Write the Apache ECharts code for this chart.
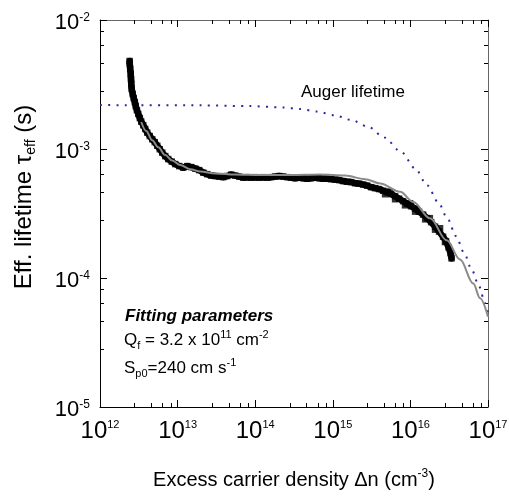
<!DOCTYPE html>
<html>
<head>
<meta charset="utf-8">
<script src="https://cdn.jsdelivr.net/npm/echarts@6/dist/echarts.min.js"></script>
<style>html,body{margin:0;padding:0;background:#fff}#c{width:509px;height:496px}</style>
</head>
<body>
<div id="c"></div>
<script>
const FONT = '"Liberation Sans", Arial, Helvetica, sans-serif';

// Axis ranges / tick labels (exponents of 10)
const xTickExponents = [12, 13, 14, 15, 16, 17];
const yTickExponents = [-5, -4, -3, -2];

// Measured effective lifetime (black squares), main trace in order of Δn
const measuredDn = [
  2.41e12, 2.42e12, 2.45e12, 2.49e12, 2.51e12, 2.53e12, 2.56e12, 2.64e12, 2.72e12, 2.81e12,
  2.89e12, 2.99e12, 3.11e12, 3.26e12, 3.40e12, 3.61e12, 3.83e12, 4.06e12, 4.38e12, 4.71e12,
  5.08e12, 5.47e12, 5.89e12, 6.34e12, 6.93e12, 7.57e12, 8.41e12, 9.33e12,
  1.05e13, 1.18e13, 1.33e13, 1.50e13, 1.69e13, 1.90e13, 2.14e13, 2.41e13, 2.71e13, 3.05e13,
  3.44e13, 3.87e13, 4.36e13, 4.91e13, 5.53e13, 6.22e13, 7.00e13, 7.88e13, 8.87e13, 1.00e14,
  1.12e14, 1.27e14, 1.43e14, 1.61e14, 1.81e14, 2.04e14, 2.29e14, 2.58e14, 2.90e14, 3.27e14,
  3.68e14, 4.15e14, 4.67e14, 5.26e14, 5.92e14, 6.67e14, 7.50e14, 8.45e14, 9.51e14,
  1.07e15, 1.21e15, 1.36e15, 1.53e15, 1.72e15, 1.94e15, 2.18e15, 2.46e15, 2.77e15, 3.12e15,
  3.51e15, 3.95e15, 4.45e15, 5.01e15, 5.64e15, 6.35e15, 7.15e15, 8.05e15, 9.06e15, 1.02e16,
  1.15e16, 1.29e16, 1.46e16, 1.64e16, 1.85e16, 2.08e16, 2.34e16, 2.64e16, 2.88e16, 3.10e16,
  3.29e16, 3.39e16
];
const measuredTau = [
  4.81e-3, 4.56e-3, 4.17e-3, 3.81e-3, 3.48e-3, 3.19e-3, 2.92e-3, 2.67e-3, 2.48e-3, 2.31e-3,
  2.15e-3, 2.00e-3, 1.87e-3, 1.74e-3, 1.63e-3, 1.53e-3, 1.43e-3, 1.34e-3, 1.26e-3, 1.19e-3,
  1.13e-3, 1.06e-3, 9.97e-4, 9.37e-4, 8.81e-4, 8.35e-4, 7.98e-4, 7.64e-4,
  7.37e-4, 7.17e-4, 7.37e-4, 7.24e-4, 7.05e-4, 6.86e-4, 6.56e-4, 6.38e-4, 6.22e-4, 6.17e-4,
  6.11e-4, 6.05e-4, 6.17e-4, 6.33e-4, 6.22e-4, 6.11e-4, 6.00e-4, 6.05e-4, 6.00e-4, 6.05e-4,
  6.00e-4, 6.05e-4, 6.00e-4, 6.05e-4, 6.11e-4, 6.17e-4, 6.11e-4, 6.05e-4, 6.00e-4, 5.94e-4,
  6.00e-4, 5.94e-4, 5.89e-4, 5.94e-4, 6.00e-4, 5.94e-4, 5.89e-4, 5.89e-4, 5.84e-4,
  5.79e-4, 5.74e-4, 5.64e-4, 5.58e-4, 5.54e-4, 5.43e-4, 5.39e-4, 5.30e-4, 5.20e-4, 5.06e-4,
  4.97e-4, 4.89e-4, 4.75e-4, 4.63e-4, 4.47e-4, 4.31e-4, 4.12e-4, 3.94e-4, 3.77e-4, 3.60e-4,
  3.45e-4, 3.27e-4, 3.10e-4, 2.91e-4, 2.71e-4, 2.50e-4, 2.29e-4, 2.09e-4, 1.93e-4, 1.73e-4,
  1.56e-4, 1.42e-4
];
// Extra measured points at the scattered edges of the high-injection band
const measuredEdgeDn = [
  4.72e15, 6.35e15, 8.53e15, 1.15e16, 1.55e16, 2.08e16, 2.79e16,
  5.47e15, 9.91e15, 1.78e16, 2.41e16
];
const measuredEdgeTau = [
  4.46e-4, 4.08e-4, 3.66e-4, 3.27e-4, 2.85e-4, 2.37e-4, 1.90e-4,
  4.68e-4, 3.80e-4, 2.91e-4, 2.43e-4
];

// Fit (grey line)
const fitDn = [
  3.40e12, 3.94e12, 4.71e12, 5.63e12, 6.93e12, 8.53e12, 1.08e13, 1.46e13, 1.96e13, 3.06e13,
  5.52e13, 1.16e14, 2.82e14, 6.87e14, 1.44e15, 2.61e15, 4.07e15, 7.37e15, 1.09e16, 1.79e16,
  2.94e16, 4.36e16, 6.47e16, 7.89e16, 1.00e17
];
const fitTau = [
  1.62e-3, 1.38e-3, 1.17e-3, 1.03e-3, 8.97e-4, 8.13e-4, 7.50e-4, 6.98e-4, 6.68e-4, 6.45e-4,
  6.33e-4, 6.28e-4, 6.28e-4, 6.33e-4, 6.22e-4, 5.84e-4, 5.41e-4, 4.66e-4, 3.89e-4, 2.90e-4,
  1.96e-4, 1.39e-4, 9.06e-5, 6.97e-5, 5.00e-5
];

// Auger lifetime (blue dotted)
const augerDn = [
  1e12, 1.96e13, 8.6e13, 2.29e14, 3.79e14, 6.28e14, 1.04e15, 1.72e15, 2.85e15, 4.58e15,
  7.59e15, 1.15e16, 1.65e16, 2.29e16, 3.03e16, 3.87e16, 4.91e16, 6.17e16, 7.66e16, 9.15e16, 1.00e17
];
const augerTau = [
  2.19e-3, 2.18e-3, 2.15e-3, 2.10e-3, 2.04e-3, 1.95e-3, 1.83e-3, 1.68e-3, 1.49e-3, 1.23e-3,
  9.51e-4, 7.08e-4, 5.22e-4, 3.85e-4, 2.86e-4, 2.11e-4, 1.57e-4, 1.16e-4, 8.63e-5, 6.41e-5, 5.33e-5
];

const xMin = Math.pow(10, xTickExponents[0]);
const xMax = Math.pow(10, xTickExponents[xTickExponents.length - 1]);
const yMin = 1e-5, yMax = 1e-2;

const zip = (a, b) => a.map((v, i) => [v, b[i]]);

const labelRich = (big, small, lh) => ({
  b: {fontSize: big, fontFamily: FONT, color: '#000', lineHeight: lh},
  s: {fontSize: small, fontFamily: FONT, color: '#000', lineHeight: small, verticalAlign: 'top'}
});

function expLabel(v) {
  return '{b|10}{s|' + Math.round(Math.log10(v)) + '}';
}

const chart = echarts.init(document.getElementById('c'), null, {renderer: 'canvas'});

function baseAxis() {
  return {
    type: 'log', logBase: 10,
    splitLine: {show: false},
    minorSplitLine: {show: false},
    axisTick: {show: true, inside: true, length: 7, lineStyle: {color: '#000', width: 1}},
    minorTick: {show: true, length: 4, lineStyle: {color: '#000', width: 1}}
  };
}

const option = {
  animation: false,
  backgroundColor: '#fff',
  grid: {left: 100, right: 21, top: 20, bottom: 89, containLabel: false, outerBoundsMode: 'none'},
  xAxis: [
    Object.assign(baseAxis(), {
      min: xMin, max: xMax, position: 'bottom',
      axisLine: {show: true, onZero: false, lineStyle: {color: '#000', width: 1}},
      axisLabel: {show: true, margin: 12, formatter: expLabel, rich: labelRich(24, 11, 25),
                  showMinLabel: true, showMaxLabel: true},
      name: '{n|Excess carrier density Δn (cm}{s|-3}{n|)}',
      nameLocation: 'middle', nameGap: 61,
      nameTextStyle: {rich: {
        n: {fontSize: 20, fontFamily: FONT, color: '#000', lineHeight: 24},
        s: {fontSize: 12, fontFamily: FONT, color: '#000', lineHeight: 12, verticalAlign: 'top'}
      }}
    }),
    Object.assign(baseAxis(), {
      min: xMin, max: xMax, position: 'top',
      axisLine: {show: true, onZero: false, lineStyle: {color: '#666', width: 1}},
      axisLabel: {show: false}
    })
  ],
  yAxis: [
    Object.assign(baseAxis(), {
      min: yMin, max: yMax, position: 'left',
      axisLine: {show: true, onZero: false, lineStyle: {color: '#000', width: 1}},
      axisLabel: {show: true, margin: 10, formatter: expLabel, rich: labelRich(22, 12, 22),
                  padding: [5, 0, 0, 0], showMinLabel: true, showMaxLabel: true}
    }),
    Object.assign(baseAxis(), {
      min: yMin, max: yMax, position: 'right',
      axisLine: {show: true, onZero: false, lineStyle: {color: '#666', width: 1}},
      axisLabel: {show: false}
    })
  ],
  series: [
    {
      name: 'Auger lifetime', type: 'line', xAxisIndex: 0, yAxisIndex: 0,
      data: zip(augerDn, augerTau), showSymbol: false, symbol: 'none',
      smooth: 0.3, smoothMonotone: 'x',
      lineStyle: {color: '#2a2a9c', width: 2, type: [2, 6.3]}, z: 2, silent: true
    },
    {
      name: 'Measured band', type: 'line', xAxisIndex: 0, yAxisIndex: 0,
      data: zip(measuredDn, measuredTau), showSymbol: false, symbol: 'none',
      lineStyle: {color: '#000', width: 6.5, join: 'round', cap: 'round'}, z: 3, silent: true
    },
    {
      name: 'Measured', type: 'scatter', xAxisIndex: 0, yAxisIndex: 0,
      data: zip(measuredDn, measuredTau).concat(zip(measuredEdgeDn, measuredEdgeTau)),
      symbol: 'rect', symbolSize: 6.5,
      itemStyle: {color: '#000'}, z: 3, silent: true
    },
    {
      name: 'Fit', type: 'line', xAxisIndex: 0, yAxisIndex: 0,
      data: zip(fitDn, fitTau), showSymbol: false, symbol: 'none',
      smooth: 0.35, smoothMonotone: 'x',
      lineStyle: {color: '#8a8a8a', width: 2}, z: 4, silent: true
    }
  ],
  graphic: [
    {type: 'text', x: 301, y: 92, silent: true,
     style: {text: 'Auger lifetime', font: '17px ' + FONT, fill: '#000', verticalAlign: 'middle'}},
    {type: 'text', x: 125, y: 316, silent: true,
     style: {text: 'Fitting parameters', font: 'italic bold 17px ' + FONT, fill: '#000', verticalAlign: 'middle'}},
    {type: 'text', x: 124, y: 340, silent: true,
     style: {
       text: '{n|Q}{sub|f}{n| = 3.2 x 10}{sup|11}{n| cm}{sup|-2}', verticalAlign: 'middle',
       rich: {
         n: {fontSize: 17, fontFamily: FONT, fill: '#000', lineHeight: 22},
         sub: {fontSize: 11, fontFamily: FONT, fill: '#000', lineHeight: 12, verticalAlign: 'bottom'},
         sup: {fontSize: 11, fontFamily: FONT, fill: '#000', lineHeight: 11, verticalAlign: 'top'}
       }
     }},
    {type: 'text', x: 124, y: 368, silent: true,
     style: {
       text: '{n|S}{sub|p0}{n|=240 cm s}{sup|-1}', verticalAlign: 'middle',
       rich: {
         n: {fontSize: 17, fontFamily: FONT, fill: '#000', lineHeight: 22},
         sub: {fontSize: 11, fontFamily: FONT, fill: '#000', lineHeight: 4, verticalAlign: 'bottom'},
         sup: {fontSize: 11, fontFamily: FONT, fill: '#000', lineHeight: 11, verticalAlign: 'top'}
       }
     }},
    {type: 'text', x: 24, y: 197, rotation: Math.PI / 2, silent: true,
     style: {
       text: '{n|Eff. lifetime τ}{sub|eff}{n| (s)}', align: 'center', verticalAlign: 'middle',
       rich: {
         n: {fontSize: 24, fontFamily: FONT, fill: '#000', lineHeight: 28},
         sub: {fontSize: 14, fontFamily: FONT, fill: '#000', lineHeight: 10, verticalAlign: 'bottom'}
       }
     }}
  ]
};

chart.setOption(option);
</script>
</body>
</html>
